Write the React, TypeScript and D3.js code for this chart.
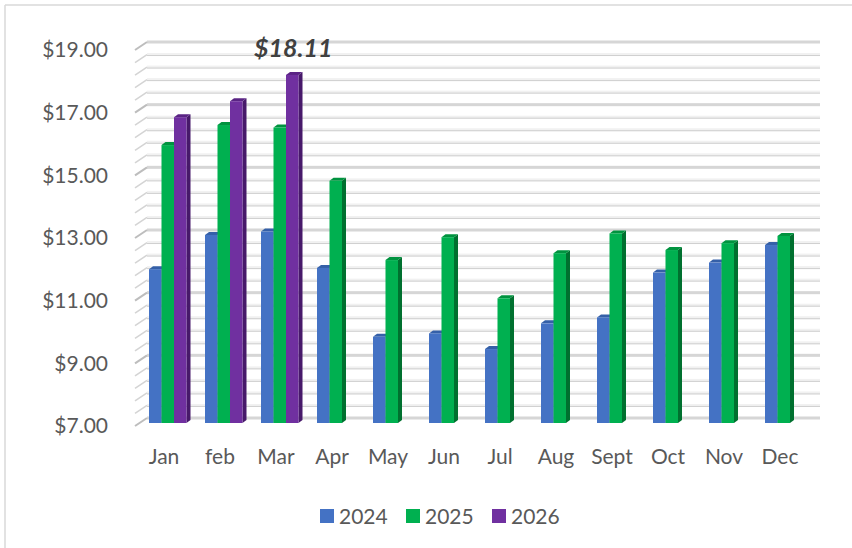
import React from 'react'
import * as d3 from 'd3'

const months = ['Jan', 'feb', 'Mar', 'Apr', 'May', 'Jun', 'Jul', 'Aug', 'Sept', 'Oct', 'Nov', 'Dec']
const seriesNames = ['2024', '2025', '2026']
const values2024 = [11.91, 13.0, 13.11, 11.95, 9.75, 9.86, 9.36, 10.18, 10.37, 11.8, 12.12, 12.68]
const values2025 = [15.87, 16.51, 16.43, 14.73, 12.2, 12.93, 10.98, 12.42, 13.05, 12.52, 12.74, 12.97]
const values2026 = [16.76, 17.27, 18.11, null, null, null, null, null, null, null, null, null]
const yTicks = [7, 9, 11, 13, 15, 17, 19]
const calloutLabel = '$18.11'

const W = 852
const H = 548
const font = 'Lato, "Open Sans", sans-serif'

// front colour, side colour, top colour
const palette: Record<string, string[]> = {
    '2024': ['#4472c4', '#2f528f', '#3560a8'],
    '2025': ['#00b050', '#00702f', '#00933f'],
    '2026': ['#7030a0', '#47196a', '#5a2484'],
}

export default function App() {
    const seriesData: Record<string, (number | null)[]> = {
        '2024': values2024,
        '2025': values2025,
        '2026': values2026,
    }

    const x = d3.scaleBand().domain(months).range([136, 808]).paddingInner(0)
    const y = d3.scaleLinear().domain([7, 19]).range([426, 50])
    const inner = d3.scaleBand().domain(seriesNames).range([0, 37.5])

    const bw = inner.bandwidth()
    const depthX = 4
    const depthY = 3
    const barShift = -3 // bars sit a little behind the front plane
    const wallDx = 12
    const wallDy = -8

    const gridVals = d3.range(0, 31).map(i => 7 + i * 0.4)

    const fmt = d3.format('$.2f')

    return (
        <div style={{position: 'absolute', left: 0, top: 0}}>
            <svg width={W} height={H} style={{display: 'block'}}>
                <rect x={0} y={0} width={W} height={H} fill="#ffffff"/>
                {/* chart border */}
                <line x1={5} y1={5} x2={W} y2={5} stroke="#d9d9d9" strokeWidth={1.5}/>
                <line x1={5} y1={5} x2={5} y2={H} stroke="#d9d9d9" strokeWidth={1.5}/>

                {/* back wall gridlines */}
                {gridVals.map((v, i) => {
                    const major = Math.abs((v - 7) / 2 - Math.round((v - 7) / 2)) < 1e-6
                    const yf = y(v)
                    const yb = yf + wallDy
                    return (
                        <g key={i}>
                            <rect x={147} y={yb - 1.5} width={673} height={3}
                                  fill={major ? '#d6d6d6' : '#f1f1f1'}/>
                            {!major && <line x1={147} x2={820} y1={yb + 1} y2={yb + 1}
                                             stroke="#cfcfcf" strokeWidth={1}/>}
                            <line x1={135} y1={yf} x2={135 + wallDx} y2={yb}
                                  stroke={major ? '#bdbdbd' : '#d4d4d4'} strokeWidth={major ? 2 : 1.5}/>
                        </g>
                    )
                })}

                {/* bars */}
                {months.map((m, mi) => {
                    const c = (x(m) as number) + x.bandwidth() / 2
                    return (
                        <g key={m}>
                            {seriesNames.map(s => {
                                const v = seriesData[s][mi]
                                if (v == null) return null
                                const x0 = c - 15 + (inner(s) as number)
                                const top = y(v) + barShift
                                const bot = y(7) + barShift
                                const [front, side, topc] = palette[s]
                                return (
                                    <g key={s}>
                                        <polygon
                                            points={`${x0 + bw},${top} ${x0 + bw + depthX},${top - depthY} ${x0 + bw + depthX},${bot - depthY} ${x0 + bw},${bot}`}
                                            fill={side}/>
                                        <polygon
                                            points={`${x0},${top} ${x0 + depthX},${top - depthY} ${x0 + bw + depthX},${top - depthY} ${x0 + bw},${top}`}
                                            fill={topc}/>
                                        <rect x={x0} y={top} width={bw} height={bot - top} fill={front}/>
                                    </g>
                                )
                            })}
                        </g>
                    )
                })}

                {/* y axis labels */}
                {yTicks.map(t => (
                    <text key={t} x={108} y={y(t)} dy="0.35em" textAnchor="end"
                          fontFamily={font} fontSize={21} fill="#595959">{fmt(t)}</text>
                ))}

                {/* x axis labels */}
                {months.map(m => (
                    <text key={m} x={(x(m) as number) + x.bandwidth() / 2} y={464} textAnchor="middle"
                          fontFamily={font} fontSize={21} fill="#595959">{m}</text>
                ))}

                {/* callout */}
                <text x={254} y={57} fontFamily={font} fontSize={25} fontWeight="bold" fontStyle="italic"
                      fill="#404040">{calloutLabel}</text>

                {/* legend */}
                {seriesNames.map((s, i) => {
                    const lx = [320, 406, 492][i]
                    return (
                        <g key={s}>
                            <rect x={lx} y={509} width={14} height={14} fill={palette[s][0]}/>
                            <text x={lx + 19} y={523.5} fontFamily={font} fontSize={21} fill="#595959">{s}</text>
                        </g>
                    )
                })}
            </svg>
        </div>
    )
}
